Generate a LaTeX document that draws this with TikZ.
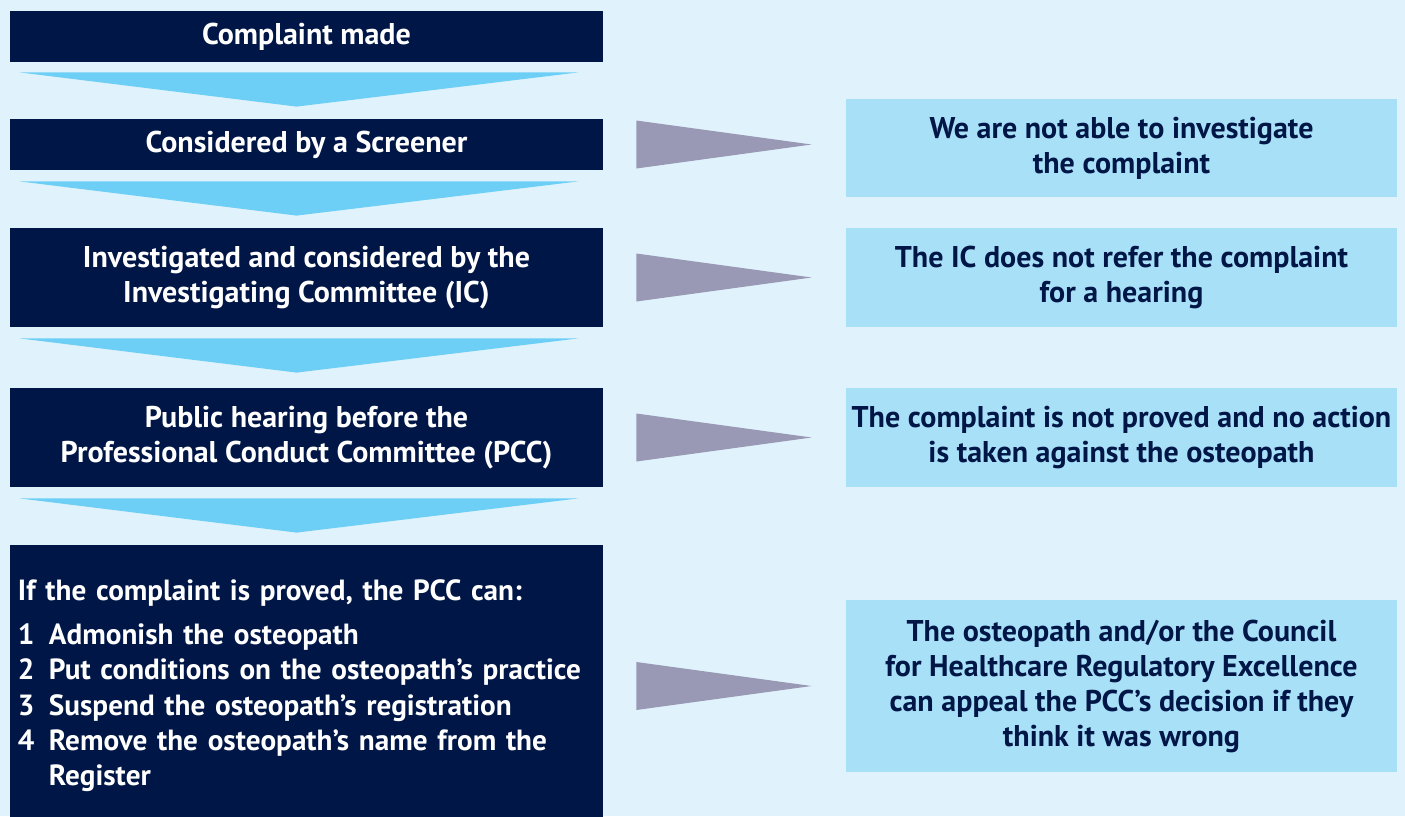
\documentclass[tikz,border=0pt]{standalone}
\usepackage{fontspec}
\setmainfont{PT Sans}
\usetikzlibrary{positioning, calc}
\definecolor{gosnavy}{RGB}{0, 22, 70}
\definecolor{goscyan}{RGB}{109, 207, 246}
\definecolor{gospale}{RGB}{168, 224, 248}
\definecolor{gosbg}{RGB}{224, 243, 253}
\definecolor{gosgrey}{RGB}{153, 153, 181}

\begin{document}
\begin{tikzpicture}[x=0.5pt, y=-0.5pt,
  stepbox/.style={fill=gosnavy, text=white, minimum width=296.5pt, align=center, inner sep=0pt, font=\fontsize{15}{17.5}\selectfont\bfseries},
  outbox/.style={fill=gospale, text=gosnavy, minimum width=275.5pt, align=center, inner sep=0pt, font=\fontsize{15}{17.5}\selectfont\bfseries},
  downarr/.style={fill=goscyan},
  sidearr/.style={fill=gosgrey}]
  \useasboundingbox (0,0) rectangle (1405,816);
  \fill[gosbg] (0,0) rectangle (1405,816);

  % Main route
  \node[stepbox, minimum height=25.5pt] (made) at (306.5,36.5) {Complaint made};
  \node[stepbox, minimum height=25.5pt] (screen) at (306.5,144.5) {Considered by a Screener};
  \node[stepbox, minimum height=49.5pt] (ic) at (306.5,277.5) {Investigated and considered by the\\Investigating Committee (IC)};
  \node[stepbox, minimum height=49.5pt] (pcc) at (306.5,437.5) {Public hearing before the\\Professional Conduct Committee (PCC)};
  \node[stepbox, minimum height=141pt, text width=288.5pt, inner xsep=4pt, align=left, font=\fontsize{14.6}{17.7}\selectfont\bfseries] (sanction) at (306.5,686) {
    \mbox{If the complaint is proved, the PCC can:}\\[4pt]
    \mbox{\makebox[15.5pt][l]{1}Admonish the osteopath}\\
    \mbox{\makebox[15.5pt][l]{2}Put conditions on the osteopath’s practice}\\
    \mbox{\makebox[15.5pt][l]{3}Suspend the osteopath’s registration}\\
    \mbox{\makebox[15.5pt][l]{4}Remove the osteopath’s name from the}\\
    \mbox{\hspace*{15.5pt}Register}
  };

  % Outcomes
  \node[outbox, minimum height=49pt] (nolimit) at (1121.5,148) {We are not able to investigate\\the complaint};
  \node[outbox, minimum height=49.5pt] (norefer) at (1121.5,277.5) {The IC does not refer the complaint\\for a hearing};
  \node[outbox, minimum height=49.5pt] (noaction) at (1121.5,437.5) {The complaint is not proved and no action\\is taken against the osteopath};
  \node[outbox, minimum height=86pt] (appeal) at (1121.5,686) {The osteopath and/or the Council\\for Healthcare Regulatory Excellence\\can appeal the PCC’s decision if they\\think it was wrong};

  % Down arrows
  \fill[downarr] ($(made.south west)+(10,10)$) -- ($(made.south east)+(-25,10)$) -- ($(screen.north west)+(287,-12)$) -- cycle;
  \fill[downarr] ($(screen.south west)+(10,11)$) -- ($(screen.south east)+(-25,11)$) -- ($(ic.north west)+(287,-12)$) -- cycle;
  \fill[downarr] ($(ic.south west)+(10,11)$) -- ($(ic.south east)+(-25,11)$) -- ($(pcc.north west)+(287,-15)$) -- cycle;
  \fill[downarr] ($(pcc.south west)+(10,11)$) -- ($(pcc.south east)+(-25,11)$) -- ($(sanction.north west)+(287,-12)$) -- cycle;

  % Side arrows
  \fill[sidearr] ($(screen.east)+(33,-24)$) -- ($(screen.east -| nolimit.west)+(-34,0)$) -- ($(screen.east)+(33,24)$) -- cycle;
  \fill[sidearr] ($(ic.east)+(33,-24)$) -- ($(ic.east -| norefer.west)+(-34,0)$) -- ($(ic.east)+(33,24)$) -- cycle;
  \fill[sidearr] ($(pcc.east)+(33,-24)$) -- ($(pcc.east -| noaction.west)+(-34,0)$) -- ($(pcc.east)+(33,24)$) -- cycle;
  \fill[sidearr] ($(appeal.west -| sanction.east)+(33,-24)$) -- ($(appeal.west)+(-34,0)$) -- ($(appeal.west -| sanction.east)+(33,24)$) -- cycle;
\end{tikzpicture}
\end{document}
